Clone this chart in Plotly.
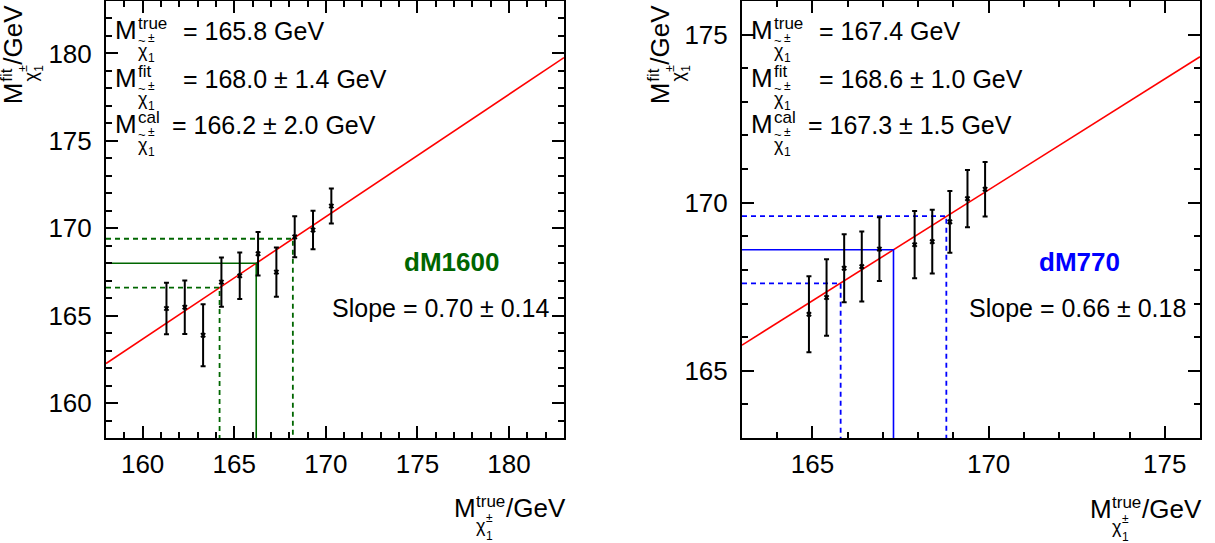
import plotly.graph_objects as go

W, H = 1215, 543
FONT = "Liberation Sans, Arial, sans-serif"

# ---------------- data ----------------
left_true = [161.3, 162.3, 163.3, 164.3, 165.3, 166.3, 167.3, 168.3, 169.3, 170.3]
left_fit = [165.41, 165.48, 163.88, 166.92, 167.28, 168.54, 167.49, 169.51, 169.90, 171.27]
left_err = [1.47, 1.53, 1.77, 1.41, 1.33, 1.25, 1.41, 1.17, 1.10, 1.00]

right_true = [164.9, 165.4, 165.9, 166.4, 166.9, 167.9, 168.4, 168.9, 169.4, 169.9]
right_fit = [166.68, 167.18, 168.05, 168.10, 168.62, 168.75, 168.84, 169.43, 170.12, 170.40]
right_err = [1.13, 1.14, 1.01, 1.04, 0.95, 1.00, 0.95, 0.92, 0.85, 0.81]

left_params = dict(true=165.8, fit=168.0, fit_err=1.4, cal=166.2, cal_err=2.0,
                   slope=0.70, slope_err=0.14, name="dM1600")
right_params = dict(true=167.4, fit=168.6, fit_err=1.0, cal=167.3, cal_err=1.5,
                    slope=0.66, slope_err=0.18, name="dM770")

left_range = [158, 183]
right_range = [163, 176]
left_tick0 = 160
right_tick0 = 165

GREEN = "#006600"
BLUE = "#0000ff"

# ---------------- layout geometry (pixels) ----------------
L_X0, L_X1 = 106, 564
R_X0, R_X1 = 742, 1200
Y_TOP, Y_BOT = 1, 438

fig = go.Figure()


def panel(xa, ya, xs, ys, errs, rng, p, color):
    b = p["fit"] - p["slope"] * p["cal"]
    fig.add_trace(go.Scatter(x=[rng[0], rng[1]], y=[b + p["slope"] * rng[0], b + p["slope"] * rng[1]],
                             mode="lines", line=dict(color="#ff0000", width=1.6),
                             xaxis=xa, yaxis=ya, hoverinfo="skip"))
    fig.add_trace(go.Scatter(x=[rng[0], p["cal"], p["cal"]], y=[p["fit"], p["fit"], rng[0]],
                             mode="lines", line=dict(color=color, width=1.6),
                             xaxis=xa, yaxis=ya, hoverinfo="skip"))
    for s in (-1, 1):
        xv = p["cal"] + s * p["cal_err"]
        yv = p["fit"] + s * p["fit_err"]
        fig.add_trace(go.Scatter(x=[rng[0], xv, xv], y=[yv, yv, rng[0]],
                                 mode="lines", line=dict(color=color, width=1.8, dash="5px,4px"),
                                 xaxis=xa, yaxis=ya, hoverinfo="skip"))
    fig.add_trace(go.Scatter(x=xs, y=ys, mode="markers",
                             marker=dict(symbol="x", size=5, color="black"),
                             error_y=dict(type="data", array=errs, visible=True,
                                          color="black", thickness=2, width=2.5),
                             xaxis=xa, yaxis=ya))


panel("x", "y", left_true, left_fit, left_err, left_range, left_params, GREEN)
panel("x2", "y2", right_true, right_fit, right_err, right_range, right_params, BLUE)


def axis(domain, rng, tick0, anchor):
    return dict(domain=domain, range=rng, anchor=anchor, tick0=tick0, dtick=5,
                showline=True, linecolor="black", linewidth=2, mirror="ticks",
                ticks="inside", ticklen=12, tickwidth=1.5, tickcolor="black",
                minor=dict(dtick=1, tick0=tick0, ticks="inside", ticklen=6, tickwidth=1.5,
                           tickcolor="black", showgrid=False),
                tickfont=dict(family=FONT, size=26, color="black"),
                showgrid=False, zeroline=False, fixedrange=True)


ydom = [1 - Y_BOT / H, 1 - Y_TOP / H]
xa1 = axis([L_X0 / W, L_X1 / W], left_range, left_tick0, "y")
ya1 = axis(ydom, left_range, left_tick0, "x")
xa2 = axis([R_X0 / W, R_X1 / W], right_range, right_tick0, "y2")
ya2 = axis(ydom, right_range, right_tick0, "x2")
xa1["ticklabelstandoff"] = 2
xa2["ticklabelstandoff"] = 2
ya1["ticklabelstandoff"] = 7
ya2["ticklabelstandoff"] = 7

fig.update_layout(width=W, height=H, autosize=False,
                  margin=dict(l=0, r=0, t=0, b=0),
                  paper_bgcolor="white", plot_bgcolor="white",
                  showlegend=False, font=dict(family=FONT, color="black"),
                  xaxis=xa1, yaxis=ya1, xaxis2=xa2, yaxis2=ya2)

# ---------------- text helpers ----------------
EM = {"M": .833, "t": .278, "r": .333, "u": .556, "e": .556, "f": .278, "i": .222,
      "c": .5, "a": .556, "l": .222, "/": .278, "G": .778, "V": .667, "χ": .52,
      "±": .584, "1": .556, "~": .584}


def width(s, size):
    return sum(EM.get(ch, .556) for ch in s) * size


def t(x, base, text, size, color="black", bold=False, xa="left"):
    fig.add_annotation(xref="paper", yref="paper", x=x / W, y=1 - (base - 0.3465 * size) / H,
                       text=f"<b>{text}</b>" if bold else text, showarrow=False,
                       xanchor=xa, yanchor="middle", borderpad=0,
                       font=dict(family=FONT, size=size, color=color))


def tr(xb, ystart, text, size):
    """rotated (-90) text: baseline at x=xb, text starting at y=ystart going up"""
    w = width(text, size)
    fig.add_annotation(xref="paper", yref="paper", x=(xb - 0.3465 * size) / W,
                       y=1 - (ystart - w / 2) / H, text=text, showarrow=False,
                       textangle=-90, xanchor="center", yanchor="middle", borderpad=0,
                       font=dict(family=FONT, size=size, color="black"))


def mlabel(x0, base, sup, size=26):
    t(x0, base, "M", size)
    xs = x0 + EM["M"] * size + 1
    t(xs, base - 10, sup, 17)
    t(xs, base + 18, "χ", 18)
    t(xs + 0.5, base + 6, "~", 13)
    t(xs + 10, base + 3, "±", 12)
    t(xs + 10, base + 23, "1", 12)


def xtitle(x_end, base, size=26):
    total = EM["M"] * size + 1 + width("true", 17) + width("/GeV", size)
    x0 = x_end - total
    t(x0, base, "M", size)
    xs = x0 + EM["M"] * size + 1
    t(xs, base - 10, "true", 17)
    t(xs, base + 15, "χ", 18)
    t(xs + 10, base + 5, "±", 12)
    t(xs + 10, base + 23, "1", 12)
    t(xs + width("true", 17), base, "/GeV", size)


def ytitle(xb, ystart, size=26):
    tr(xb, ystart, "M", size)
    a = ystart - EM["M"] * size - 1
    tr(xb - 9, a, "fit", 17)
    tr(xb + 15, a, "χ", 18)
    tr(xb + 5, a - 10, "±", 12)
    tr(xb + 21, a - 10, "1", 12)
    tr(xb, a - 17, "/GeV", size)


def info_block(fl, p):
    bases = [39.5, 87.5, 133.5]
    mlabel(fl + 8, bases[0], "true")
    t(fl + 76, bases[0], f"= {p['true']:.1f} GeV", 25)
    mlabel(fl + 8, bases[1], "fit")
    t(fl + 76, bases[1], f"= {p['fit']:.1f} ± {p['fit_err']:.1f} GeV", 25)
    mlabel(fl + 8, bases[2], "cal")
    t(fl + 65, bases[2], f"= {p['cal']:.1f} ± {p['cal_err']:.1f} GeV", 25)


info_block(L_X0, left_params)
info_block(R_X0, right_params)

# dM labels and slopes
fig.add_annotation(xref="paper", yref="paper", x=451 / W, y=1 - 262.5 / H,
                   text=f"<b>{left_params['name']}</b>", showarrow=False,
                   xanchor="center", yanchor="middle",
                   font=dict(family=FONT, size=26, color=GREEN))
fig.add_annotation(xref="paper", yref="paper", x=1079 / W, y=1 - 262.5 / H,
                   text=f"<b>{right_params['name']}</b>", showarrow=False,
                   xanchor="center", yanchor="middle",
                   font=dict(family=FONT, size=26, color=BLUE))
t(550, 317, f"Slope = {left_params['slope']:.2f} ± {left_params['slope_err']:.2f}", 25, xa="right")
t(1187, 317, f"Slope = {right_params['slope']:.2f} ± {right_params['slope_err']:.2f}", 25, xa="right")

# axis titles
xtitle(L_X1, 517)
xtitle(R_X1, 518)
ytitle(22, 104)
ytitle(669, 104)

fig.write_html("out.html")
